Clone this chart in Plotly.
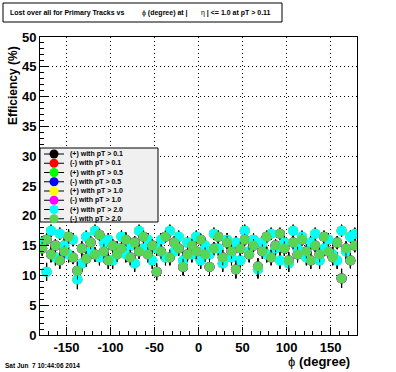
import plotly.graph_objects as go

# ---------------- data ----------------
phi_bins = [-177.5 + 5 * i for i in range(72)]

eff_minus_pt20 = [14.5, 16.0, 13.5, 15.0, 12.5, 14.0, 16.5, 13.0, 10.8, 14.5,
                  12.8, 15.5, 13.5, 16.8, 14.0, 12.5, 15.0, 13.5, 14.5, 16.0,
                  13.0, 15.5, 14.0, 16.5, 13.5, 15.0, 10.6, 14.0, 16.5, 13.0,
                  15.5, 14.5, 11.4, 13.5, 15.0, 14.0, 16.0, 13.5, 11.4, 14.5,
                  16.5, 13.0, 15.5, 14.0, 11.0, 14.5, 16.0, 13.5, 15.0, 11.5,
                  14.0, 16.5, 13.0, 15.0, 17.0, 14.5, 12.5, 15.5, 13.5, 16.0,
                  14.0, 12.5, 15.0, 13.5, 16.5, 14.0, 13.0, 15.5, 9.5, 14.5,
                  12.5, 15.0]

eff_plus_pt20 = [15.5, 10.6, 17.5, 13.0, 17.0, 15.0, 13.5, 16.0, 9.3, 12.0,
                 16.5, 14.0, 17.5, 13.0, 15.5, 16.0, 12.5, 14.5, 16.5, 13.5,
                 15.0, 12.0, 17.5, 14.5, 16.0, 12.5, 14.5, 16.0, 13.0, 17.5,
                 14.0, 16.5, 12.5, 15.5, 13.5, 16.5, 12.5, 15.0, 13.5, 17.0,
                 14.5, 12.0, 16.0, 13.0, 15.5, 12.5, 17.5, 14.0, 16.0, 11.0,
                 15.5, 13.5, 17.0, 14.5, 12.5, 15.5, 12.0, 17.5, 14.5, 16.5,
                 13.0, 15.5, 17.0, 12.5, 14.5, 16.0, 13.5, 12.5, 17.5, 14.0,
                 16.5, 17.0]

err_minus = [1.2, 1.0, 1.3, 1.1, 1.4, 1.0, 1.2, 1.1, 1.5, 1.2,
             1.3, 1.1, 1.2, 1.0, 1.3, 1.4, 1.1, 1.2, 1.0, 1.2,
             1.3, 1.1, 1.2, 1.0, 1.3, 1.1, 1.4, 1.2, 1.0, 1.3,
             1.1, 1.2, 1.4, 1.2, 1.1, 1.3, 1.0, 1.2, 1.4, 1.1,
             1.0, 1.3, 1.1, 1.2, 1.5, 1.2, 1.0, 1.3, 1.1, 1.4,
             1.2, 1.0, 1.3, 1.1, 1.0, 1.2, 1.4, 1.1, 1.3, 1.0,
             1.2, 1.4, 1.1, 1.3, 1.0, 1.2, 1.3, 1.1, 1.6, 1.2,
             1.3, 1.1]
err_plus = [1.1, 1.5, 1.0, 1.3, 1.0, 1.2, 1.3, 1.1, 1.6, 1.4,
            1.0, 1.2, 1.0, 1.3, 1.1, 1.1, 1.4, 1.2, 1.0, 1.3,
            1.2, 1.4, 1.0, 1.2, 1.1, 1.4, 1.2, 1.1, 1.3, 1.0,
            1.2, 1.0, 1.4, 1.1, 1.3, 1.0, 1.4, 1.2, 1.3, 1.0,
            1.2, 1.4, 1.1, 1.3, 1.1, 1.4, 1.0, 1.2, 1.1, 1.5,
            1.1, 1.3, 1.0, 1.2, 1.4, 1.1, 1.4, 1.0, 1.2, 1.0,
            1.3, 1.1, 1.0, 1.4, 1.2, 1.1, 1.3, 1.4, 1.0, 1.2,
            1.0, 1.0]

series_names = ["(+) with pT > 0.1", "(-) with pT > 0.1",
                "(+) with pT > 0.5", "(-) with pT > 0.5",
                "(+) with pT > 1.0", "(-) with pT > 1.0",
                "(+) with pT > 2.0", "(-) with pT > 2.0"]
series_colors = ["#000000", "#ff0000", "#00ff00", "#0000ff",
                 "#ffff00", "#ff00ff", "#00ffff", "#59d454"]
# lower-pT series are fully hidden under the pT > 2.0 markers in the picture
series_values = [eff_plus_pt20, eff_minus_pt20] * 4
series_errors = [err_plus, err_minus] * 4

x_ticks = [-150, -100, -50, 0, 50, 100, 150]
y_ticks = [0, 5, 10, 15, 20, 25, 30, 35, 40, 45, 50]

# ---------------- geometry helpers ----------------
W, H = 396, 372
ML, MR, MT, MB = 40, 39, 37, 37
PW, PH = W - ML - MR, H - MT - MB


def px_x(px):
    return (px - ML) / PW


def px_y(py):
    return (H - MB - py) / PH


FONT = "Liberation Sans, Arial, sans-serif"

fig = go.Figure()
for name, col, vals, errs in zip(series_names, series_colors, series_values, series_errors):
    fig.add_trace(go.Scatter(
        x=phi_bins, y=vals, mode="markers", name=name,
        marker=dict(color=col, size=10, symbol="circle", line=dict(width=0)),
        error_y=dict(type="data", array=errs, color="black", thickness=1, width=0),
        showlegend=False,
    ))

shapes = []
annotations = []

# title box
shapes.append(dict(type="rect", xref="paper", yref="paper",
                   x0=px_x(3), x1=px_x(282), y0=px_y(22), y1=px_y(3),
                   line=dict(color="black", width=1), fillcolor="white", layer="above"))
title_parts = [(8, "<b>Lost over all for Primary Tracks vs</b>"),
               (140, "ϕ<b> (degree) at |</b>"),
               (199, "η<b> | &lt;= 1.0 at pT &gt; 0.11</b>")]
for px, txt in title_parts:
    annotations.append(dict(xref="paper", yref="paper", x=px_x(px), y=px_y(12.5),
                            xanchor="left", yanchor="middle", showarrow=False,
                            text=txt, font=dict(family=FONT, size=7, color="black")))

# legend box
shapes.append(dict(type="rect", xref="paper", yref="paper",
                   x0=px_x(40), x1=px_x(158), y0=px_y(222), y1=px_y(148),
                   line=dict(color="black", width=1), fillcolor="#f0f0f0", layer="above"))
row0, row_step = 154, 9.25
for i, (name, col) in enumerate(zip(series_names, series_colors)):
    cy = row0 + i * row_step
    shapes.append(dict(type="line", xref="paper", yref="paper",
                       x0=px_x(44), x1=px_x(64), y0=px_y(cy), y1=px_y(cy),
                       line=dict(color="black", width=1), layer="above"))
    r = 4.5
    shapes.append(dict(type="circle", xref="paper", yref="paper",
                       x0=px_x(54 - r), x1=px_x(54 + r), y0=px_y(cy + r), y1=px_y(cy - r),
                       line=dict(width=0), fillcolor=col, layer="above"))
    annotations.append(dict(xref="paper", yref="paper", x=px_x(68), y=px_y(cy),
                            xanchor="left", yanchor="middle", showarrow=False,
                            text="<b>" + name.replace(">", "&gt;") + "</b>",
                            font=dict(family=FONT, size=7, color="black")))

# axis titles
annotations.append(dict(xref="paper", yref="paper", x=px_x(352), y=px_y(361),
                        xanchor="right", yanchor="middle", showarrow=False,
                        text="ϕ <b>(degree)</b>", font=dict(family=FONT, size=13, color="black")))
annotations.append(dict(xref="paper", yref="paper", x=px_x(13), y=px_y(86),
                        xanchor="center", yanchor="middle", showarrow=False, textangle=-90,
                        text="<b>Efficiency (%)</b>", font=dict(family=FONT, size=12, color="black")))
# date stamp
annotations.append(dict(xref="paper", yref="paper", x=px_x(3), y=px_y(365),
                        xanchor="left", yanchor="middle", showarrow=False,
                        text="<b>Sat Jun  7 10:44:06 2014</b>",
                        font=dict(family=FONT, size=6.5, color="black")))

axis_common = dict(
    showline=True, linecolor="black", linewidth=1, mirror=True,
    ticks="inside", ticklen=8, tickcolor="black", tickwidth=1,
    showgrid=True, gridcolor="black", gridwidth=1, griddash="1px,3px",
    zeroline=False,
    tickfont=dict(family=FONT, size=13, color="black", weight="bold"),
)

fig.update_layout(
    width=W, height=H,
    margin=dict(l=ML, r=MR, t=MT, b=MB),
    paper_bgcolor="white", plot_bgcolor="white",
    showlegend=False,
    xaxis=dict(range=[-180, 180], tickvals=x_ticks, ticktext=[str(v) for v in x_ticks],
               minor=dict(ticks="inside", ticklen=4, dtick=10, tick0=0, tickcolor="black", showgrid=False),
               **axis_common),
    yaxis=dict(range=[0, 50], tickvals=y_ticks, ticktext=[str(v) for v in y_ticks],
               minor=dict(ticks="inside", ticklen=4, dtick=1, tick0=0, tickcolor="black", showgrid=False),
               **axis_common),
    shapes=shapes,
    annotations=annotations,
)

fig.write_html("out.html", config={"displayModeBar": False},
               post_script="document.body.style.margin='0';document.body.style.overflow='hidden';")
